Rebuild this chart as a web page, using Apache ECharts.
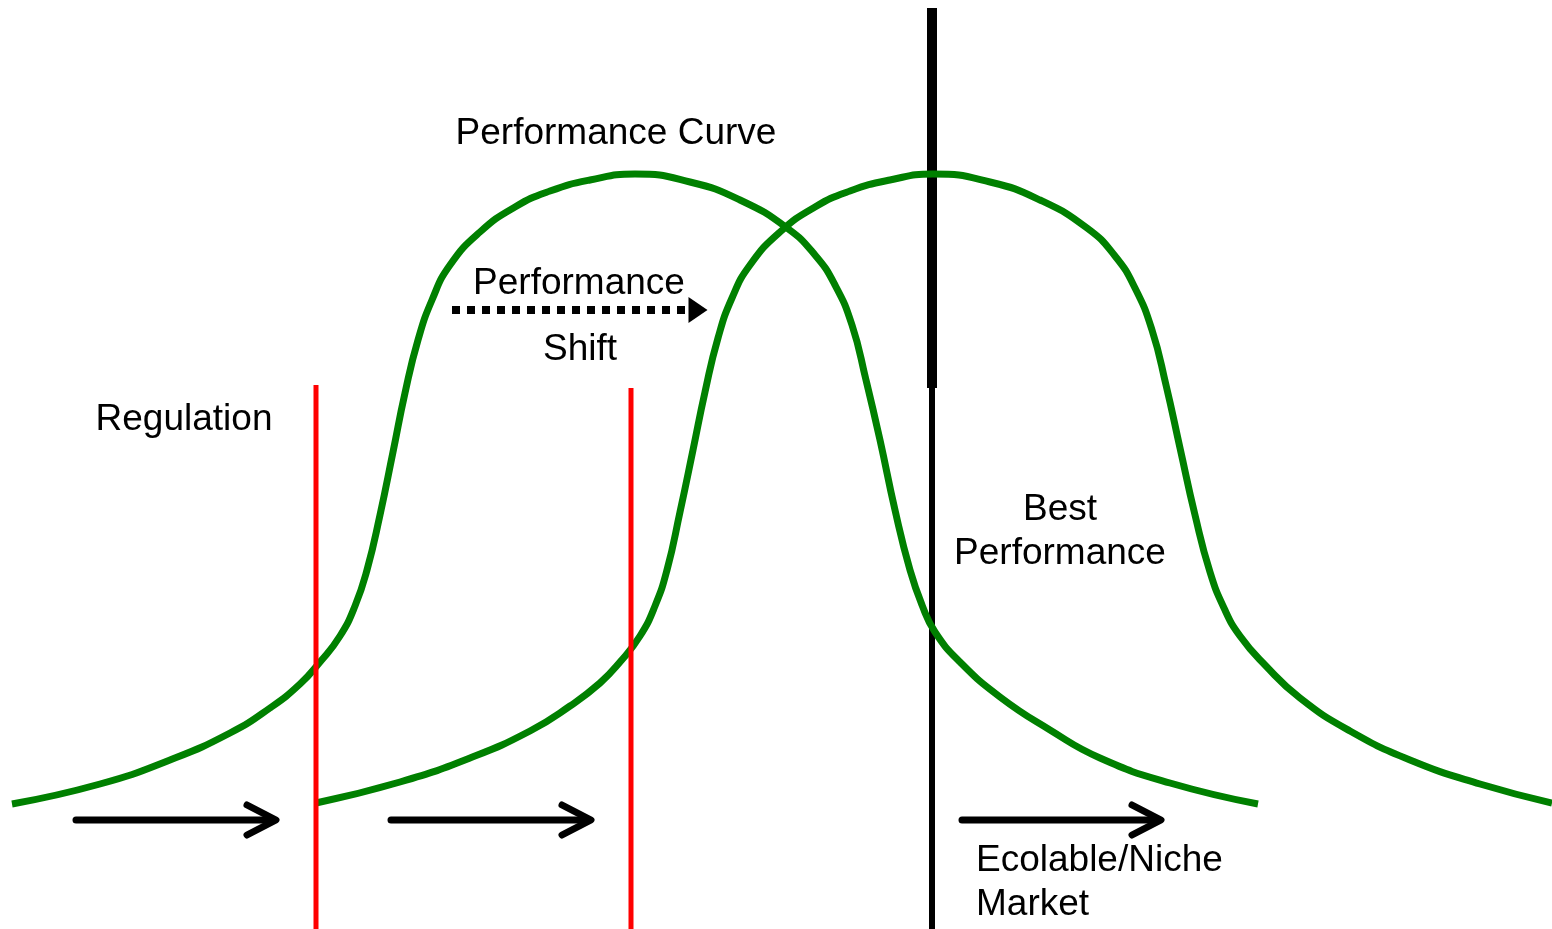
<!DOCTYPE html>
<html>
<head>
<meta charset="utf-8">
<script src="https://cdn.jsdelivr.net/npm/echarts@6/dist/echarts.min.js"></script>
<style>
  html, body { margin: 0; padding: 0; background: #fff; }
  #main { width: 1552px; height: 929px; }
</style>
</head>
<body>
<div id="main"></div>
<script>
// 画布坐标 (x 向右, y 向下)
var xMax = 1552, yMax = 929;

// 原来的性能曲线
var curveOld = [
  [12,804],[100,784],[170,760],[230,733],[270,708],[300,684],[320,662],[340,636],
  [355,606],[367,570],[380,515],[393,452],[405,393],[418,340],[432,300],[450,265],
  [480,232],[515,207],[550,191],[590,180],[635,174],[690,182],[740,200],[787,228],
  [815,255],[835,285],[852,325],[866,380],[880,440],[895,510],[910,570],[922,605],
  [935,632],[960,662],[1000,697],[1050,730],[1100,758],[1170,783],[1258,804]
];
// 移动后的性能曲线
var curveNew = [
  [316,803],[400,782],[470,758],[530,731],[570,706],[600,683],[620,662],[640,636],
  [655,606],[667,570],[680,512],[693,450],[705,392],[718,338],[732,298],[750,265],
  [780,232],[815,207],[850,191],[890,180],[933,174],[990,182],[1040,200],[1087,228],
  [1115,256],[1135,288],[1152,330],[1166,385],[1180,448],[1195,515],[1210,572],
  [1224,608],[1240,636],[1265,665],[1300,698],[1350,731],[1410,760],[1480,784],[1552,803]
];

// 法规线 (红)
var regulationX = [316, 631];
var regulationTop = [385, 388];
// 最佳性能线 (黑)
var bestX = 932, bestTop = 8, bestSplit = 388;
// 底部箭头
var marketArrows = [[76, 276], [391, 591], [962, 1161]];
var arrowY = 820;
// 性能移动箭头 (虚线)
var shiftArrow = [452, 707], shiftY = 310;

var myChart = echarts.init(document.getElementById('main'));

var series = [];

// 黑线在下面
series.push({
  type: 'line', data: [[bestX, bestTop], [bestX, bestSplit]],
  symbol: 'none', lineStyle: { color: '#000', width: 10 }, z: 1
});
series.push({
  type: 'line', data: [[bestX, bestSplit], [bestX, yMax]],
  symbol: 'none', lineStyle: { color: '#000', width: 6 }, z: 1
});

[curveOld, curveNew].forEach(function (c) {
  series.push({
    type: 'line', data: c, smooth: 0.5, symbol: 'none',
    lineStyle: { color: '#008000', width: 7 }, z: 2
  });
});

regulationX.forEach(function (x, i) {
  series.push({
    type: 'line', data: [[x, regulationTop[i]], [x, yMax]],
    symbol: 'none', lineStyle: { color: '#ff0000', width: 5 }, z: 3
  });
});

marketArrows.forEach(function (a) {
  series.push({
    type: 'line', data: [[a[0], arrowY], [a[1] - 3, arrowY]],
    symbol: 'none', lineStyle: { color: '#000', width: 7, cap: 'round' }, z: 3
  });
  series.push({
    type: 'line', data: [[a[1] - 29, arrowY - 15], [a[1], arrowY], [a[1] - 29, arrowY + 15]],
    symbol: 'none', lineStyle: { color: '#000', width: 7, cap: 'round', join: 'round' }, z: 3
  });
});

series.push({
  type: 'line', data: [[shiftArrow[0], shiftY], [shiftArrow[1] - 18, shiftY]],
  symbol: 'none', lineStyle: { color: '#000', width: 8, type: [8, 7] }, z: 3
});
series.push({
  type: 'scatter', data: [[shiftArrow[1] - 9, shiftY]],
  symbol: 'triangle', symbolSize: [26, 19], symbolRotate: -90,
  itemStyle: { color: '#000', opacity: 1 }, z: 3
});

var font = '37px "Liberation Sans", Arial, sans-serif';
function txt(t, x, y, align) {
  return {
    type: 'text', x: x, y: y, silent: true, z: 10,
    style: { text: t, font: font, fill: '#000', textAlign: align || 'center', textVerticalAlign: 'middle' }
  };
}

var option = {
  animation: false,
  grid: { left: 0, right: 0, top: 0, bottom: 0 },
  xAxis: { type: 'value', min: 0, max: xMax, show: false },
  yAxis: { type: 'value', min: 0, max: yMax, inverse: true, show: false },
  series: series,
  graphic: [
    txt('Performance Curve', 616, 134),
    txt('Performance', 579, 284),
    txt('Shift', 580, 350),
    txt('Regulation', 184, 420),
    txt('Best', 1060, 510),
    txt('Performance', 1060, 554),
    txt('Ecolable/Niche', 976, 861, 'left'),
    txt('Market', 976, 905, 'left')
  ]
};

myChart.setOption(option);
</script>
</body>
</html>
